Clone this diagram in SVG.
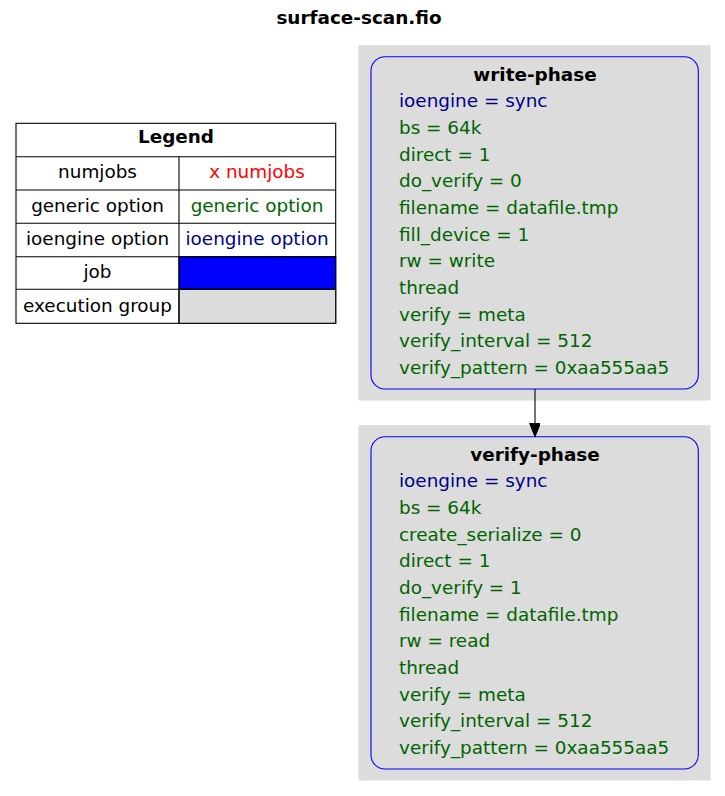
<svg xmlns="http://www.w3.org/2000/svg" width="725" height="796" viewBox="0 0 725 796">
  <defs>
    <marker id="arrow" markerWidth="14" markerHeight="11" refX="13.3" refY="5.35" orient="auto" markerUnits="userSpaceOnUse">
      <path d="M0,0 L13.3,5.35 L0,10.7 Z" fill="#000" stroke="#000" stroke-width="1"/>
    </marker>
  </defs>
  <style>
    text { font-family: "DejaVu Sans", "Liberation Sans", sans-serif; font-size: 18.4px; }
    .b { font-weight: bold; }
    .c { text-anchor: middle; }
    .g { fill: #006400; }
    .n { fill: #00008b; }
    .r { fill: #ff0000; }
    .k { fill: #000000; }
    .cluster { fill: #dcdcdc; stroke: #dcdcdc; }
    .job { fill: none; stroke: #0000ff; stroke-width: 1.1; }
    .cell { fill: #ffffff; stroke: #000; stroke-width: 1.1; }
    .edge { stroke: #000; stroke-width: 1.1; fill: none; }
  </style>

  <rect width="725" height="796" fill="#ffffff"/>

  <text class="b c k" x="359" y="24">surface-scan.fio</text>

  <!-- legend table -->
  <g id="legend">
    <rect class="cell" x="16" y="123.3" width="319.7" height="200"/>
    <rect x="179" y="256.7" width="156.7" height="32.6" fill="#0000ff" stroke="#000" stroke-width="1.1"/>
    <rect x="179" y="289.3" width="156.7" height="34" fill="#dcdcdc" stroke="#000" stroke-width="1.1"/>
    <g stroke="#000" stroke-width="1.1">
      <line x1="16" y1="156.7" x2="335.7" y2="156.7"/>
      <line x1="16" y1="190" x2="335.7" y2="190"/>
      <line x1="16" y1="223.3" x2="335.7" y2="223.3"/>
      <line x1="16" y1="256.7" x2="335.7" y2="256.7"/>
      <line x1="16" y1="289.3" x2="335.7" y2="289.3"/>
      <line x1="179" y1="156.7" x2="179" y2="323.3"/>
    </g>
    <text class="b c k" x="176" y="143.3">Legend</text>
    <text class="c k" x="97.5" y="178.3">numjobs</text>
    <text class="c r" x="257" y="178.3">x numjobs</text>
    <text class="c k" x="97.5" y="211.7">generic option</text>
    <text class="c g" x="257" y="211.7">generic option</text>
    <text class="c k" x="97.5" y="245">ioengine option</text>
    <text class="c n" x="257" y="245">ioengine option</text>
    <text class="c k" x="97.5" y="278.3">job</text>
    <text class="c k" x="97.5" y="311.7">execution group</text>
  </g>

  <!-- execution groups -->
  <g id="cluster_write">
    <rect class="cluster" x="359" y="45.7" width="351" height="354.3"/>
  </g>
  <g id="cluster_verify">
    <rect class="cluster" x="359" y="425.7" width="351" height="354.3"/>
  </g>

  <!-- jobs -->
  <g id="write-phase">
    <rect class="job" x="371" y="56.7" width="327.3" height="332.3" rx="14" ry="14"/>
    <text class="b c k" x="535" y="80.7">write-phase</text>
    <text class="n" x="399" y="107.3">ioengine = sync</text>
    <text class="g" x="399" y="134">bs = 64k</text>
    <text class="g" x="399" y="160.7">direct = 1</text>
    <text class="g" x="399" y="187.3">do_verify = 0</text>
    <text class="g" x="399" y="214">filename = datafile.tmp</text>
    <text class="g" x="399" y="240.7">fill_device = 1</text>
    <text class="g" x="399" y="267.3">rw = write</text>
    <text class="g" x="399" y="294">thread</text>
    <text class="g" x="399" y="320.7">verify = meta</text>
    <text class="g" x="399" y="347.3">verify_interval = 512</text>
    <text class="g" x="399" y="374">verify_pattern = 0xaa555aa5</text>
  </g>

  <g id="verify-phase">
    <rect class="job" x="371" y="436.7" width="327.3" height="332.3" rx="14" ry="14"/>
    <text class="b c k" x="535" y="460.7">verify-phase</text>
    <text class="n" x="399" y="487.3">ioengine = sync</text>
    <text class="g" x="399" y="514">bs = 64k</text>
    <text class="g" x="399" y="540.7">create_serialize = 0</text>
    <text class="g" x="399" y="567.3">direct = 1</text>
    <text class="g" x="399" y="594">do_verify = 1</text>
    <text class="g" x="399" y="620.7">filename = datafile.tmp</text>
    <text class="g" x="399" y="647.3">rw = read</text>
    <text class="g" x="399" y="674">thread</text>
    <text class="g" x="399" y="700.7">verify = meta</text>
    <text class="g" x="399" y="727.3">verify_interval = 512</text>
    <text class="g" x="399" y="754">verify_pattern = 0xaa555aa5</text>
  </g>

  <!-- connectors -->
  <g id="edges">
    <line class="edge" x1="535" y1="389" x2="535" y2="436.7" marker-end="url(#arrow)"/>
  </g>
</svg>
